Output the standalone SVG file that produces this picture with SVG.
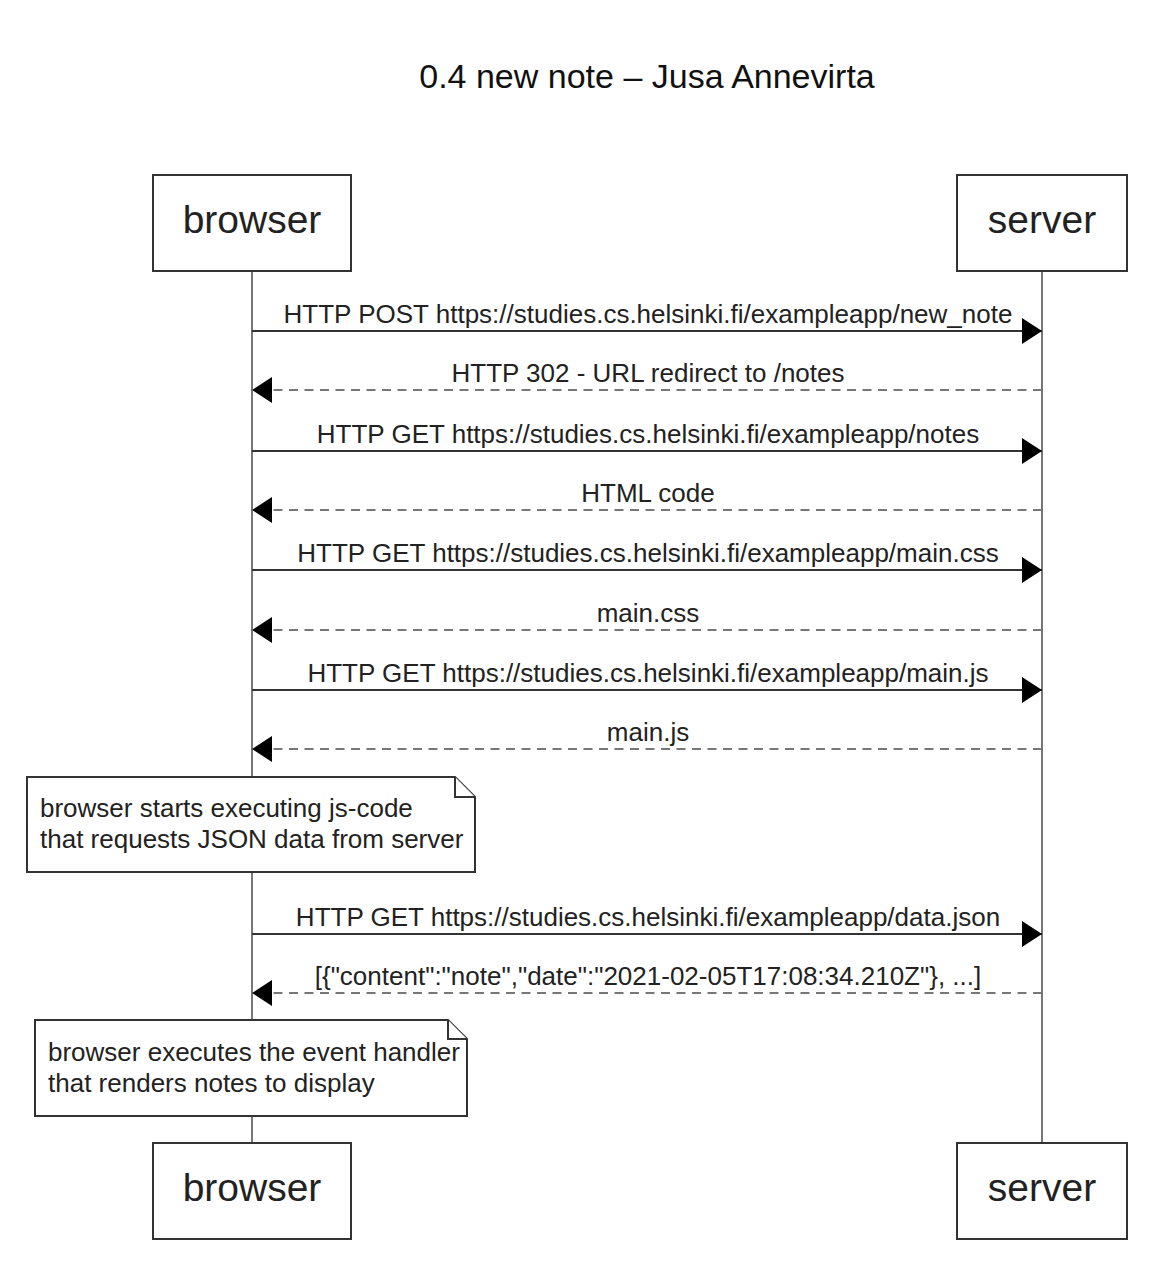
<svg xmlns="http://www.w3.org/2000/svg" width="1154" height="1264" viewBox="0 0 1154 1264">
<style>
text{font-family:"Liberation Sans",Arial,sans-serif;fill:#222}
.title{font-size:34px;fill:#111;text-anchor:middle}
.actor{fill:#fff;stroke:#333;stroke-width:2}
.atext{font-size:39px;text-anchor:middle}
.life{stroke:#777;stroke-width:2}
.msg{stroke:#333;stroke-width:2;fill:none}
.ret{stroke:#777;stroke-width:2;stroke-dasharray:9 6.5;fill:none}
.lbl{font-size:26px;text-anchor:middle}
.note{fill:#fff;stroke:#333;stroke-width:2}
.ntext{font-size:26px}
</style>
<defs>
<marker id="ah" markerUnits="userSpaceOnUse" markerWidth="21" markerHeight="28" refX="20" refY="14" orient="auto" viewBox="0 0 21 28">
<path d="M0,1 L20,14 L0,27 Z" fill="#000"/>
</marker>
</defs>
<text class="title" x="647" y="88">0.4 new note – Jusa Annevirta</text>
<g id="lifelines">
<line class="life" x1="252" y1="271" x2="252" y2="1142"/>
<line class="life" x1="1042" y1="271" x2="1042" y2="1142"/>
</g>
<g id="browser-top"><rect class="actor" x="153" y="175" width="198" height="96"/><text class="atext" x="252" y="233">browser</text></g>
<g id="server-top"><rect class="actor" x="957" y="175" width="170" height="96"/><text class="atext" x="1042" y="233">server</text></g>
<g id="browser-bottom"><rect class="actor" x="153" y="1143" width="198" height="96"/><text class="atext" x="252" y="1201">browser</text></g>
<g id="server-bottom"><rect class="actor" x="957" y="1143" width="170" height="96"/><text class="atext" x="1042" y="1201">server</text></g>
<g id="connectors">
<line class="msg" x1="252" y1="331" x2="1042" y2="331" marker-end="url(#ah)"/>
<text class="lbl" x="648" y="323">HTTP POST https://studies.cs.helsinki.fi/exampleapp/new_note</text>
<line class="ret" x1="1042" y1="390" x2="252" y2="390" marker-end="url(#ah)"/>
<text class="lbl" x="648" y="382">HTTP 302 - URL redirect to /notes</text>
<line class="msg" x1="252" y1="451" x2="1042" y2="451" marker-end="url(#ah)"/>
<text class="lbl" x="648" y="443">HTTP GET https://studies.cs.helsinki.fi/exampleapp/notes</text>
<line class="ret" x1="1042" y1="510" x2="252" y2="510" marker-end="url(#ah)"/>
<text class="lbl" x="648" y="502">HTML code</text>
<line class="msg" x1="252" y1="570" x2="1042" y2="570" marker-end="url(#ah)"/>
<text class="lbl" x="648" y="562">HTTP GET https://studies.cs.helsinki.fi/exampleapp/main.css</text>
<line class="ret" x1="1042" y1="630" x2="252" y2="630" marker-end="url(#ah)"/>
<text class="lbl" x="648" y="622">main.css</text>
<line class="msg" x1="252" y1="690" x2="1042" y2="690" marker-end="url(#ah)"/>
<text class="lbl" x="648" y="682">HTTP GET https://studies.cs.helsinki.fi/exampleapp/main.js</text>
<line class="ret" x1="1042" y1="749" x2="252" y2="749" marker-end="url(#ah)"/>
<text class="lbl" x="648" y="741">main.js</text>
<line class="msg" x1="252" y1="934" x2="1042" y2="934" marker-end="url(#ah)"/>
<text class="lbl" x="648" y="926">HTTP GET https://studies.cs.helsinki.fi/exampleapp/data.json</text>
<line class="ret" x1="1042" y1="993" x2="252" y2="993" marker-end="url(#ah)"/>
<text class="lbl" x="648" y="985">[{"content":"note","date":"2021-02-05T17:08:34.210Z"}, ...]</text>
</g>
<g id="note1">
<path class="note" d="M27,777 H455 L475,797 V872 H27 Z"/>
<path class="note" d="M455,777 V797 H475"/>
<text class="ntext" x="40" y="817">browser starts executing js-code</text>
<text class="ntext" x="40" y="848">that requests JSON data from server</text>
</g>
<g id="note2">
<path class="note" d="M35,1020 H448 L467,1039 V1116 H35 Z"/>
<path class="note" d="M448,1020 V1039 H467"/>
<text class="ntext" x="48" y="1061">browser executes the event handler</text>
<text class="ntext" x="48" y="1092">that renders notes to display</text>
</g>
</svg>
